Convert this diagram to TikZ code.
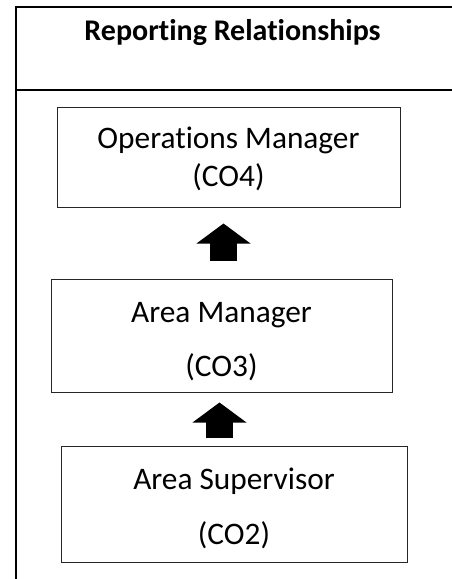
\documentclass[tikz,border=0pt]{standalone}
\usepackage{fontspec}
\setmainfont{Carlito}[RawFeature=-liga]
\usetikzlibrary{arrows.meta,positioning}

\begin{document}
\begin{tikzpicture}[
          x=0.75pt,y=-0.75pt,
          every node/.style={font=\fontsize{23.5}{28.5}\selectfont},
          frame/.style={line width=1.5pt,black},
          box/.style={draw=black!85,line width=0.75pt,align=center,inner sep=0pt},
          blockarr/.style={line width=20.25pt,-{Triangle[width=39.75pt,length=15pt]}},
      ]
        \useasboundingbox (0,0) rectangle (451,579);
        \draw[frame] (16,600) -- (16,7) -- (470,7);
        \draw[frame] (16,90) -- (470,90);

        \node[font=\fontsize{22.5}{27}\selectfont\bfseries,anchor=base] (title) at (232.5,40)
          {Reporting Relationships};

        \node[box,minimum width=257.25pt,minimum height=75pt] (ops) at (228.5,157)
          {\rule{0pt}{19pt}Operations Manager\\[0pt](CO4)};
        \node[box,minimum width=255.75pt,minimum height=84.75pt] (area) at (221.5,335.5)
          {\rule{0pt}{24pt}Area Manager\\[12pt](CO3)};
        \node[box,minimum width=259.5pt,minimum height=87pt] (sup) at (234,504)
          {\rule{0pt}{22.5pt}Area Supervisor\\[12.5pt](CO2)};

        \draw[blockarr] ([shift={(2,-18)}]area.north) -- ([shift={(-5,16)}]ops.south);
        \draw[blockarr] ([shift={(-14.5,-8)}]sup.north) -- ([shift={(-2,10)}]area.south);
      \end{tikzpicture}
\end{document}
